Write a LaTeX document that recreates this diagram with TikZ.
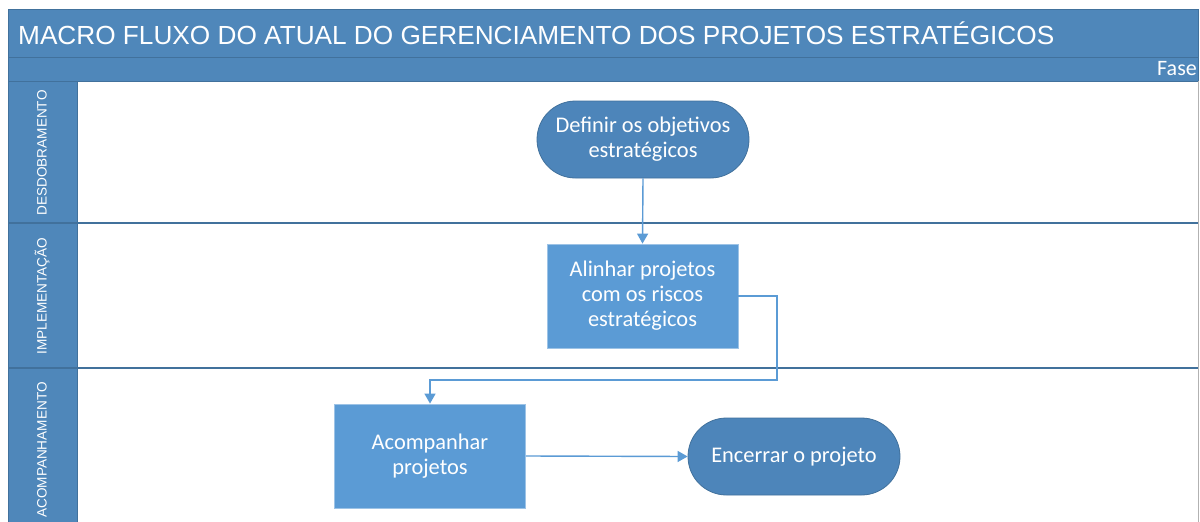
\documentclass[tikz,border=0pt]{standalone}
\usepackage{fontspec}
\setmainfont{Carlito}
\newfontfamily\arialf{Liberation Sans}
\usetikzlibrary{arrows.meta,shapes.misc}
\definecolor{hdr}{HTML}{4F87BA}
\definecolor{hdrline}{HTML}{41719C}
\definecolor{stad}{HTML}{4D85BA}
\definecolor{procf}{HTML}{5B9BD5}
\definecolor{conn}{HTML}{5B9BD5}
\begin{document}
\begin{tikzpicture}[x=1pt,y=-1pt,
  stadium/.style={rounded rectangle, draw=hdrline, line width=0.8pt, fill=stad, text=white,
    minimum width=212pt, minimum height=77pt, align=center, font=\fontsize{22.4}{25}\selectfont, inner sep=0pt},
  procbox/.style={rectangle, draw=procf!60!white, line width=0.8pt, fill=procf, text=white,
    minimum width=191pt, minimum height=104pt, align=center, font=\fontsize{22.4}{25}\selectfont, inner sep=0pt},
  lanelabel/.style={rotate=90, text=white, font=\arialf\fontsize{13.6}{15}\selectfont, inner sep=0pt},
  connector/.style={draw=conn, line width=1.4pt, -{Triangle[length=10pt,width=11pt]}},
  sepline/.style={draw=hdrline, line width=1.4pt}]
\useasboundingbox (0,0) rectangle (1200,522);
\fill[white] (0,0) rectangle (1200,522);
% frame
\fill[hdr] (8,9) rectangle (1198,81);
\fill[hdr] (8,81) rectangle (77,530);
\fill[white] (77,81) rectangle (1198,530);
\draw[hdrline, line width=0.8pt] (8,9) rectangle (1198,530);
\draw[hdrline, line width=0.8pt] (8,57) -- (1198,57);
\draw[hdrline, line width=0.8pt] (8,81) -- (1198,81);
\draw[hdrline, line width=0.6pt] (77,81) -- (77,530);
\draw[sepline] (8,223) -- (1198,223);
\draw[sepline] (8,368) -- (1198,368);
\draw[gray!60, line width=0.8pt] (1198,81) -- (1198,530);
% texts
\node[anchor=west, text=white, font=\arialf\fontsize{26.2}{30}\selectfont, inner sep=0pt] (title) at (18,33) {MACRO FLUXO DO ATUAL DO GERENCIAMENTO DOS PROJETOS ESTRATÉGICOS};
\node[anchor=east, text=white, font=\fontsize{22}{24}\selectfont, inner sep=0pt] (fase) at (1197,69) {Fase};
\node[lanelabel] (l1) at (42,153) {DESDOBRAMENTO};
\node[lanelabel] (l2) at (42,296) {IMPLEMENTAÇÃO};
\node[lanelabel] (l3) at (42,450) {ACOMPANHAMENTO};
% nodes
\node[stadium] (def) at (643,139.5) {Definir os objetivos\\estratégicos};
\node[procbox] (ali) at (642.5,296) {Alinhar projetos\\com os riscos\\estratégicos};
\node[procbox] (aco) at (430,456) {Acompanhar\\projetos};
\node[stadium] (enc) at (794,456.5) {Encerrar o projeto};
% connectors
\coordinate (c1) at (777,296);
\coordinate (c2) at (777,380);
\coordinate (c3) at (430,380);
\draw[connector] (def.south) -- (ali.north);
\draw[connector] (ali.east) -- (c1) -- (c2) -- (c3) -- (aco.north);
\draw[connector] (aco.east) -- (enc.west);
\end{tikzpicture}
\end{document}
